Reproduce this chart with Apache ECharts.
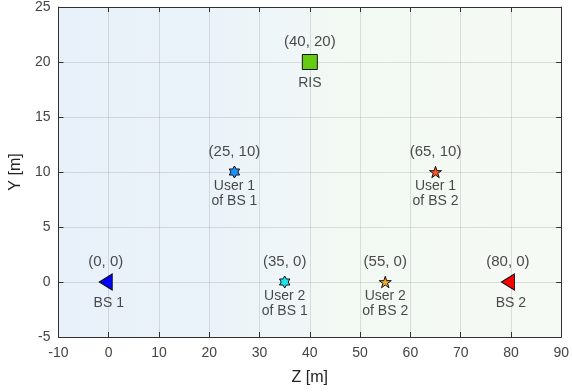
<!DOCTYPE html>
<html>
<head>
<meta charset="utf-8">
<script src="https://cdn.jsdelivr.net/npm/echarts@6/dist/echarts.min.js"></script>
<style>
  html, body { margin: 0; padding: 0; background: #fff; }
  #chart { width: 572px; height: 392px; }
</style>
</head>
<body>
<div id="chart"></div>
<script>
// Network layout: base stations, RIS and users in the Z-Y plane
const nodeNames = ['BS 1', 'BS 2', 'RIS', 'User 1\nof BS 1', 'User 2\nof BS 1', 'User 1\nof BS 2', 'User 2\nof BS 2'];
const nodeZ = [0, 80, 40, 25, 35, 65, 55];
const nodeY = [0, 0, 20, 10, 0, 10, 0];

const xTicks = [-10, 0, 10, 20, 30, 40, 50, 60, 70, 80, 90];
const yTicks = [-5, 0, 5, 10, 15, 20, 25];

// marker shapes
const HEXAGRAM = 'path://M0,-10 L2.887,-5 L8.66,-5 L5.774,0 L8.66,5 L2.887,5 L0,10 L-2.887,5 L-8.66,5 L-5.774,0 L-8.66,-5 L-2.887,-5 Z';
const PENTAGRAM = 'path://M0,-10 L2.245,-3.09 L9.511,-3.09 L3.633,1.18 L5.878,8.09 L0,3.82 L-5.878,8.09 L-3.633,1.18 L-9.511,-3.09 L-2.245,-3.09 Z';

const markerStyles = [
  { symbol: 'triangle', size: [16, 13], rotate: 90, offset: [-3, 0], color: '#0000ff' },
  { symbol: 'triangle', size: [16, 13], rotate: 90, offset: [-3, 0], color: '#ff0000' },
  { symbol: 'rect', size: 15, rotate: 0, offset: [0, 0], color: '#66cc11' },
  { symbol: HEXAGRAM, size: 12, rotate: 0, offset: [0, 0], color: '#1e8fff' },
  { symbol: HEXAGRAM, size: 12, rotate: 0, offset: [0, 0], color: '#1fe3ec' },
  { symbol: PENTAGRAM, size: 12, rotate: 0, offset: [0, 0], color: '#ff5522' },
  { symbol: PENTAGRAM, size: 12, rotate: 0, offset: [0, 0], color: '#f2aa2a' }
];

const FONT = '"Liberation Sans", Arial, Helvetica, sans-serif';
const AXIS_COLOR = '#303030';

const markerData = nodeNames.map((name, i) => {
  const s = markerStyles[i];
  return {
    value: [nodeZ[i], nodeY[i]],
    symbol: s.symbol,
    symbolSize: s.size,
    symbolRotate: s.rotate,
    symbolOffset: s.offset,
    symbolKeepAspect: true,
    itemStyle: { color: s.color, borderColor: '#111', borderWidth: 1, opacity: 1 }
  };
});

const nameData = nodeNames.map((name, i) => ({ value: [nodeZ[i], nodeY[i]], name: name }));

const chart = echarts.init(document.getElementById('chart'), null, { renderer: 'canvas' });

const baseX = {
  type: 'value', min: xTicks[0], max: xTicks[xTicks.length - 1], interval: 10
};
const baseY = {
  type: 'value', min: yTicks[0], max: yTicks[yTicks.length - 1], interval: 5
};

chart.setOption({
  animation: false,
  grid: {
    left: 56, right: 10, top: 7, bottom: 55,
    show: true,
    borderWidth: 0,
    backgroundColor: new echarts.graphic.LinearGradient(0, 0, 1, 0, [
      { offset: 0, color: '#e8f1f9' },
      { offset: 0.3, color: '#eaf3f9' },
      { offset: 0.47, color: '#f0f6f8' },
      { offset: 0.53, color: '#f2f8f2' },
      { offset: 1, color: '#f5faf4' }
    ])
  },
  xAxis: [
    Object.assign({}, baseX, {
      position: 'bottom',
      name: 'Z [m]', nameLocation: 'middle', nameGap: 33,
      nameTextStyle: { fontFamily: FONT, fontSize: 16, color: '#222' },
      axisLine: { show: true, onZero: false, lineStyle: { color: AXIS_COLOR, width: 1 } },
      axisTick: { show: true, inside: true, length: 5, lineStyle: { color: AXIS_COLOR } },
      axisLabel: { fontFamily: FONT, fontSize: 14, color: '#444', margin: 9 },
      splitLine: { show: true, lineStyle: { color: 'rgba(38,38,38,0.13)', width: 1 } }
    }),
    Object.assign({}, baseX, {
      position: 'top',
      axisLine: { show: true, onZero: false, lineStyle: { color: AXIS_COLOR, width: 1 } },
      axisTick: { show: true, inside: true, length: 5, lineStyle: { color: AXIS_COLOR } },
      axisLabel: { show: false },
      splitLine: { show: false }
    })
  ],
  yAxis: [
    Object.assign({}, baseY, {
      position: 'left',
      name: 'Y [m]', nameLocation: 'middle', nameGap: 32,
      nameTextStyle: { fontFamily: FONT, fontSize: 16, color: '#222' },
      axisLine: { show: true, onZero: false, lineStyle: { color: AXIS_COLOR, width: 1 } },
      axisTick: { show: true, inside: true, length: 5, lineStyle: { color: AXIS_COLOR } },
      axisLabel: { fontFamily: FONT, fontSize: 14, color: '#444', margin: 8 },
      splitLine: { show: true, lineStyle: { color: 'rgba(38,38,38,0.13)', width: 1 } }
    }),
    Object.assign({}, baseY, {
      position: 'right',
      axisLine: { show: true, onZero: false, lineStyle: { color: AXIS_COLOR, width: 1 } },
      axisTick: { show: true, inside: true, length: 5, lineStyle: { color: AXIS_COLOR } },
      axisLabel: { show: false },
      splitLine: { show: false }
    })
  ],
  series: [
    {
      // node markers with their coordinates written above
      type: 'scatter',
      xAxisIndex: 0, yAxisIndex: 0,
      z: 3,
      data: markerData,
      label: {
        show: true,
        position: 'inside',
        offset: [0, -20.5],
        formatter: p => '(' + p.value[0] + ', ' + p.value[1] + ')',
        fontFamily: FONT, fontSize: 15, color: '#4a4a4a'
      }
    },
    {
      // node names written below each marker
      type: 'scatter',
      xAxisIndex: 0, yAxisIndex: 0,
      z: 2,
      symbolSize: 1,
      itemStyle: { color: 'transparent' },
      data: nameData,
      silent: true,
      label: {
        show: true,
        position: 'inside',
        offset: [0, 21.5],
        formatter: p => p.name,
        fontFamily: FONT, fontSize: 14, lineHeight: 15, color: '#1a1a1a', align: 'center'
      }
    }
  ]
});
</script>
</body>
</html>
